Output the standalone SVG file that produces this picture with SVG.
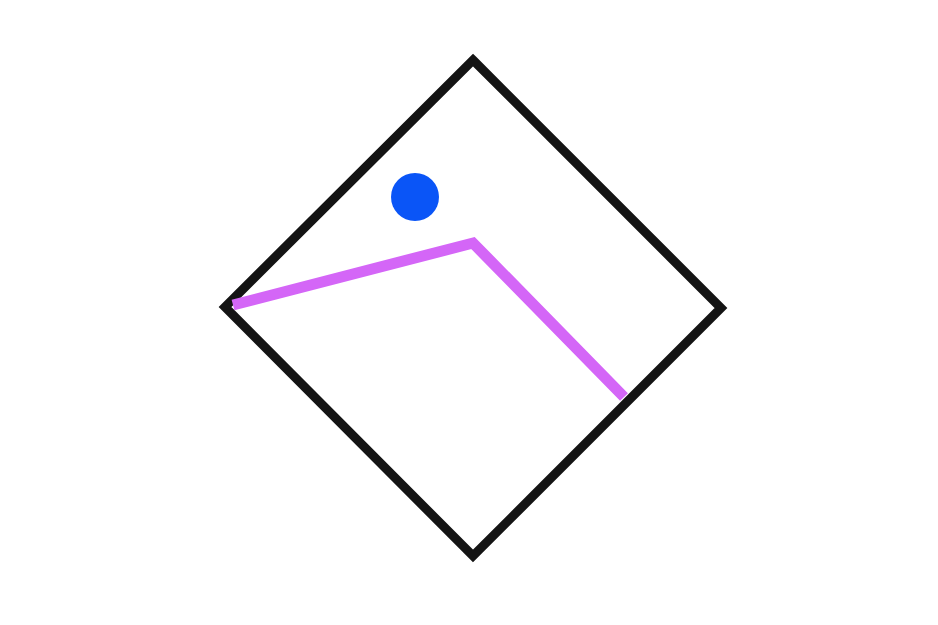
<svg xmlns="http://www.w3.org/2000/svg" width="938" height="625" viewBox="0 0 938 625">
<style>
.frame{fill:none;stroke:#141414;stroke-width:9;stroke-linejoin:miter}
.ridge{fill:none;stroke:#d466f7;stroke-width:11;stroke-linejoin:miter}
.sun{fill:#0a55f7}
</style>
<rect width="938" height="625" fill="#ffffff"/>
<g id="frame"><polygon class="frame" points="473,60 721,308 473,556 225,307"/></g>
<g id="sun"><circle class="sun" cx="415" cy="197" r="24"/></g>
<g id="ridge"><polyline class="ridge" points="233,305 473,243 624,397"/></g>
</svg>
